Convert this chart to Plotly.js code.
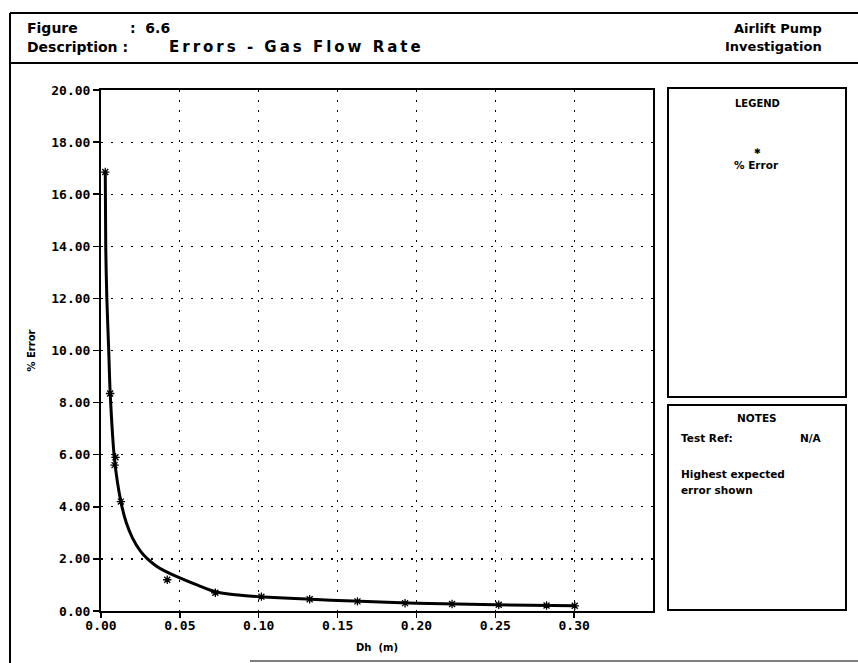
<!DOCTYPE html>
<html>
<head>
<meta charset="utf-8">
<script src="https://cdn.plot.ly/plotly-3.0.1.min.js"></script>
<style>
html,body{margin:0;padding:0;background:#fff;}
#chart{width:858px;height:663px;}
#chart g.annotation[data-index="3"] text{letter-spacing:3px;}
</style>
</head>
<body>
<div id="chart"></div>
<script>
// ---- data ----
const markerDh = [0.0027, 0.0058, 0.0086, 0.0092, 0.0126, 0.042, 0.0725, 0.1017, 0.1323, 0.1626, 0.1928, 0.2226, 0.2522, 0.2825, 0.3004];
const markerErr = [16.85, 8.35, 5.6, 5.9, 4.2, 1.2, 0.7, 0.55, 0.45, 0.37, 0.30, 0.27, 0.24, 0.21, 0.20];
const curveDh = [0.0027, 0.0030, 0.0037, 0.0049, 0.0058, 0.0086, 0.0126, 0.016, 0.020, 0.025, 0.0295, 0.035, 0.040, 0.050, 0.060, 0.0725, 0.085, 0.100, 0.130, 0.160, 0.200, 0.250, 0.300];
const curveErr = [16.9, 14.0, 12.0, 10.0, 8.4, 5.8, 4.2, 3.4, 2.8, 2.3, 2.0, 1.73, 1.55, 1.27, 1.02, 0.74, 0.62, 0.55, 0.46, 0.38, 0.30, 0.24, 0.20];
const xTicks = [0, 0.05, 0.10, 0.15, 0.20, 0.25, 0.30];
const yTicks = [0, 2, 4, 6, 8, 10, 12, 14, 16, 18, 20];

// plot area in pixels
const L = 101, R = 653, T = 90, B = 611, W = 858, H = 663;
const px = x => (x - L) / (R - L);
const py = y => (B - y) / (B - T);

const FONT = "DejaVu Sans";
const MONO = "DejaVu Sans Mono";

const traces = [
  {
    x: curveDh, y: curveErr, type: 'scatter', mode: 'lines',
    line: {color: '#000', width: 3, shape: 'spline', smoothing: 0.8},
    showlegend: false, hoverinfo: 'skip'
  },
  {
    x: markerDh, y: markerErr, type: 'scatter', mode: 'markers',
    name: '% Error',
    marker: {symbol: 'asterisk-open', size: 7, color: '#000', line: {color: '#000', width: 1.3}},
    showlegend: false
  }
];

function line(x0, y0, x1, y1, w) {
  return {type: 'line', xref: 'paper', yref: 'paper', x0: px(x0), y0: py(y0), x1: px(x1), y1: py(y1),
          line: {color: '#000', width: w}};
}
function rect(x0, y0, x1, y1, w) {
  return {type: 'rect', xref: 'paper', yref: 'paper', x0: px(x0), y0: py(y0), x1: px(x1), y1: py(y1),
          line: {color: '#000', width: w}, fillcolor: 'rgba(0,0,0,0)'};
}
function txt(text, x, y, size, anchor, family) {
  return {text: text, xref: 'paper', yref: 'paper', x: px(x), y: py(y), showarrow: false,
          xanchor: anchor || 'left', yanchor: 'middle',
          font: {family: family || FONT, size: size, color: '#000', weight: 'bold'}};
}

const layout = {
  width: W, height: H,
  margin: {l: L, r: W - R, t: T, b: H - B, pad: 0},
  paper_bgcolor: '#fff', plot_bgcolor: '#fff',
  showlegend: false,
  xaxis: {
    range: [0, 0.35], tickvals: xTicks, tickformat: '.2f',
    showline: true, mirror: true, linecolor: '#000', linewidth: 2,
    ticks: 'outside', ticklen: 5, tickwidth: 1.5, tickcolor: '#000',
    ticklabelstandoff: -4,
    showgrid: true, gridcolor: '#000', gridwidth: 1.2, griddash: '1.5px,8.5px',
    zeroline: false,
    tickfont: {family: MONO, size: 13, color: '#000', weight: 'bold'},
    title: {text: 'Dh  (m)', standoff: 12, font: {family: FONT, size: 10, color: '#000', weight: 'bold'}}
  },
  yaxis: {
    range: [0, 20], tickvals: yTicks, tickformat: '.2f',
    showline: true, mirror: true, linecolor: '#000', linewidth: 2,
    ticks: 'outside', ticklen: 6, tickwidth: 1.5, tickcolor: '#000',
    showgrid: true, gridcolor: '#000', gridwidth: 1.2, griddash: '1.5px,8.5px',
    zeroline: false,
    tickfont: {family: MONO, size: 13, color: '#000', weight: 'bold'},
    title: {text: '% Error', standoff: 14, font: {family: FONT, size: 10, color: '#000', weight: 'bold'}}
  },
  shapes: [
    line(10, 13, 10, 663, 2),
    line(10, 13, 858, 13, 2),
    line(10, 63, 858, 63, 2),
    line(250, 661, 858, 661, 1),
    rect(668, 88, 846, 397, 2),
    rect(668, 405, 846, 610, 2)
  ],
  annotations: [
    txt('Figure', 25, 28, 14),
    txt(':  6.6', 128, 28, 14),
    txt('Description :', 25, 47, 14),
    txt('Errors - Gas Flow Rate', 200, 47, 15),
    txt('Airlift Pump', 824, 28, 13, 'right'),
    txt('Investigation', 824, 47, 13, 'right'),
    txt('LEGEND', 757, 104, 10, 'center'),
    txt('✱', 757, 151, 8, 'center'),
    txt('% Error', 756, 165, 10.5, 'center'),
    txt('NOTES', 757, 418, 10.5, 'center'),
    txt('Test Ref:', 679, 438, 10.5),
    txt('N/A', 811, 438, 10.5, 'center'),
    txt('Highest expected', 679, 474, 10.5),
    txt('error shown', 679, 490, 10.5)
  ]
};

Plotly.newPlot('chart', traces, layout, {displayModeBar: false, staticPlot: true});
</script>
</body>
</html>
